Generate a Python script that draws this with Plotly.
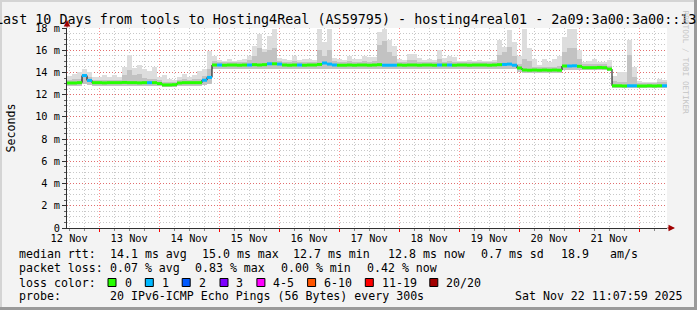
import pandas as pd
import plotly.graph_objects as go

# ---------------- data ----------------
START = "2025-11-12 11:07:59"
END = "2025-11-22 11:07:59"
BIN_HOURS = 2

median_ms = [
    13.05, 13.05, 13.08, 13.72, 13.28, 13.08, 13.08, 13.06, 13.08, 13.08,
    13.08, 13.10, 13.08, 13.08, 13.06, 13.08, 13.08, 13.08, 13.00, 12.88,
    12.88, 12.90, 13.05, 13.08, 13.08, 13.08, 13.08, 13.30, 13.55, 14.67,
    14.67, 14.65, 14.67, 14.67, 14.65, 14.67, 14.67, 14.70, 14.67, 14.70,
    14.78, 14.78, 14.75, 14.67, 14.65, 14.67, 14.67, 14.65, 14.67, 14.67,
    14.72, 14.85, 14.75, 14.67, 14.65, 14.65, 14.67, 14.65, 14.67, 14.67,
    14.65, 14.67, 14.70, 14.65, 14.65, 14.65, 14.67, 14.65, 14.67, 14.67,
    14.65, 14.67, 14.67, 14.65, 14.67, 14.67, 14.67, 14.65, 14.67, 14.67,
    14.65, 14.67, 14.67, 14.67, 14.65, 14.67, 14.70, 14.72, 14.75, 14.65,
    14.40, 14.22, 14.20, 14.22, 14.20, 14.22, 14.20, 14.22, 14.20, 14.58,
    14.58, 14.60, 14.55, 14.43, 14.43, 14.43, 14.45, 14.43, 14.30, 12.80,
    12.80, 12.78, 12.80, 12.80, 12.78, 12.78, 12.80, 12.78, 12.80, 12.80,
]

loss = [
    0, 0, 0, 1, 1, 0, 0, 0, 0, 0,
    0, 0, 0, 0, 0, 0, 1, 0, 0, 0,
    0, 0, 0, 0, 0, 0, 0, 1, 1, 0,
    1, 0, 0, 0, 0, 0, 1, 0, 0, 0,
    1, 0, 1, 0, 0, 0, 1, 0, 0, 0,
    0, 1, 1, 1, 0, 0, 0, 0, 0, 0,
    0, 0, 0, 1, 1, 1, 0, 0, 0, 0,
    0, 0, 0, 0, 1, 0, 1, 0, 0, 0,
    0, 0, 0, 0, 0, 0, 0, 1, 1, 1,
    0, 0, 0, 0, 0, 0, 0, 0, 0, 0,
    1, 1, 0, 0, 0, 0, 0, 0, 0, 0,
    0, 0, 1, 1, 0, 0, 0, 0, 0, 1,
]

smoke_lo = [
    12.80, 12.80, 12.80, 13.00, 12.90, 12.80, 12.80, 12.80, 12.80, 12.80,
    12.80, 12.80, 12.80, 12.80, 12.80, 12.80, 12.80, 12.80, 12.75, 12.65,
    12.65, 12.65, 12.80, 12.80, 12.80, 12.80, 12.80, 12.90, 13.00, 14.35,
    14.35, 14.35, 14.35, 14.35, 14.35, 14.35, 14.35, 14.35, 14.35, 14.35,
    14.35, 14.35, 14.35, 14.35, 14.35, 14.35, 14.35, 14.35, 14.35, 14.35,
    14.35, 14.35, 14.35, 14.35, 14.35, 14.35, 14.35, 14.35, 14.35, 14.35,
    14.35, 14.35, 14.35, 14.35, 14.35, 14.35, 14.35, 14.35, 14.35, 14.35,
    14.35, 14.35, 14.35, 14.35, 14.35, 14.35, 14.35, 14.35, 14.35, 14.35,
    14.35, 14.35, 14.35, 14.35, 14.35, 14.35, 14.35, 14.35, 14.35, 14.35,
    14.00, 13.95, 13.95, 13.95, 13.95, 13.95, 13.95, 13.95, 13.95, 14.25,
    14.25, 14.25, 14.25, 14.25, 14.25, 14.25, 14.25, 14.25, 14.10, 12.60,
    12.60, 12.60, 12.60, 12.60, 12.60, 12.60, 12.60, 12.60, 12.60, 12.60,
]

smoke_hi = [
    13.70, 13.90, 14.00, 14.35, 14.00, 13.60, 13.60, 13.80, 13.60, 13.80,
    13.60, 14.50, 15.60, 14.40, 14.70, 14.30, 14.10, 14.50, 13.60, 13.80,
    13.40, 13.30, 13.60, 13.90, 13.60, 13.80, 14.10, 14.30, 15.90, 15.50,
    15.10, 15.00, 15.20, 15.00, 15.10, 15.20, 15.50, 16.40, 17.50, 16.10,
    17.30, 17.90, 15.30, 15.20, 15.10, 15.50, 15.10, 15.20, 15.20, 15.10,
    17.90, 16.70, 17.90, 15.30, 15.20, 15.10, 15.50, 15.20, 15.20, 15.50,
    15.40, 15.40, 17.60, 17.90, 16.90, 16.40, 15.20, 15.10, 15.70, 15.70,
    15.30, 15.10, 15.20, 15.10, 16.00, 15.30, 15.50, 15.40, 15.00, 15.00,
    15.10, 15.00, 15.10, 15.00, 15.00, 15.10, 16.90, 16.30, 17.80, 16.70,
    15.50, 17.90, 16.20, 15.20, 14.70, 15.20, 14.90, 15.20, 15.50, 17.20,
    17.90, 17.90, 16.00, 14.90, 15.00, 15.20, 14.90, 14.90, 15.10, 13.70,
    14.00, 14.00, 16.90, 14.50, 13.20, 13.10, 13.10, 13.10, 13.40, 13.30,
]

smoke_dark_hi = [
    13.35, 13.40, 13.45, 13.90, 13.60, 13.35, 13.35, 13.35, 13.35, 13.35,
    13.35, 13.80, 14.20, 13.80, 13.90, 13.50, 13.40, 13.40, 13.30, 13.15,
    13.15, 13.15, 13.35, 13.40, 13.35, 13.40, 13.45, 13.70, 14.30, 15.00,
    14.95, 14.95, 14.95, 14.95, 14.95, 14.95, 15.10, 15.50, 16.20, 15.80,
    16.00, 16.20, 15.00, 14.95, 14.95, 15.00, 14.95, 14.95, 14.95, 14.95,
    16.00, 15.50, 16.00, 15.00, 14.95, 14.95, 15.00, 14.95, 14.95, 15.00,
    14.95, 15.00, 16.50, 16.80, 15.80, 15.50, 14.95, 14.95, 15.10, 15.10,
    14.95, 14.95, 14.95, 14.95, 15.20, 14.95, 15.00, 14.95, 14.95, 14.95,
    14.95, 14.95, 14.95, 14.95, 14.95, 14.95, 15.60, 15.80, 16.30, 15.50,
    14.80, 15.20, 15.00, 14.50, 14.50, 14.50, 14.50, 14.50, 14.60, 15.80,
    16.20, 16.20, 15.20, 14.75, 14.75, 14.80, 14.75, 14.75, 14.60, 13.20,
    13.10, 13.10, 15.60, 13.60, 13.05, 13.05, 13.05, 13.05, 13.10, 13.10,
]

y_tickvals = [0, 2, 4, 6, 8, 10, 12, 14, 16, 18]
y_ticktext = ["0", "2 m", "4 m", "6 m", "8 m", "10 m", "12 m", "14 m", "16 m", "18 m"]

title_text = ("Last 10 Days from tools to Hosting4Real (AS59795) - hosting4real01 - "
              "2a09:3a00:3a00::133")

row_median = ["median rtt:", "14.1 ms avg", "15.0 ms max", "12.7 ms min",
              "12.8 ms now", "0.7 ms sd", "18.9", "am/s"]
row_loss = ["packet loss:", "0.07 % avg", "0.83 % max", "0.00 % min", "0.42 % now"]
loss_labels = ["0", "1", "2", "3", "4-5", "6-10", "11-19", "20/20"]
loss_colors = ["#26ff00", "#00b8ff", "#0059ff", "#7e00ff", "#ff00ff",
               "#ff5500", "#ff0000", "#a10000"]
row_probe = ["probe:", "20 IPv6-ICMP Echo Pings (56 Bytes) every 300s",
             "Sat Nov 22 11:07:59 2025"]

# ---------------- layout constants (pixels) ----------------
W, H = 697, 310
PL, PR, PT, PB = 67, 667, 28, 228          # plot area edges
MONO = "DejaVu Sans Mono"


def px(x):
    return (x - PL) / (PR - PL)


def py(y):
    return (PB - y) / (PB - PT)


bin_ms = BIN_HOURS * 3600 * 1000
starts = pd.date_range(START, periods=len(median_ms), freq=f"{BIN_HOURS}h")
centers = starts + pd.Timedelta(hours=BIN_HOURS / 2)
ends = starts + pd.Timedelta(hours=BIN_HOURS)

fig = go.Figure()

# smoke: light outer band
fig.add_trace(go.Bar(
    x=centers, y=[h - l for h, l in zip(smoke_hi, smoke_lo)], base=smoke_lo,
    width=bin_ms, marker=dict(color="#dddddd", line=dict(width=0)),
    hoverinfo="skip", showlegend=False))
# smoke: darker inner band
fig.add_trace(go.Bar(
    x=centers, y=[h - l for h, l in zip(smoke_dark_hi, smoke_lo)], base=smoke_lo,
    width=bin_ms, marker=dict(color="#c2c2c2", line=dict(width=0)),
    hoverinfo="skip", showlegend=False))

# median: thin black step line
fig.add_trace(go.Scatter(
    x=list(starts) + [ends[-1]], y=median_ms + [median_ms[-1]],
    mode="lines", line=dict(color="#000000", width=1, shape="hv"),
    hoverinfo="skip", showlegend=False))

# median coloured by loss
for lv in sorted(set(loss)):
    xs, ys = [], []
    for s, e, m, l in zip(starts, ends, median_ms, loss):
        if l == lv:
            xs += [s, e, None]
            ys += [m, m, None]
    fig.add_trace(go.Scatter(
        x=xs, y=ys, mode="lines", line=dict(color=loss_colors[lv], width=3),
        hoverinfo="skip", showlegend=False, connectgaps=False))

# hidden helper axis (paper-like 0..1 range) used to place the over-wide title
fig.add_trace(go.Scatter(x=[0.5], y=[0.5], xaxis="x2", yaxis="y2", mode="none",
                         hoverinfo="skip", showlegend=False))

RED_GRID = "rgba(255,0,0,0.45)"
GREY_GRID = "#c8c8c8"

fig.update_layout(
    width=W, height=H,
    margin=dict(l=PL, r=W - PR, t=PT, b=H - PB),
    paper_bgcolor="#f3f3f3", plot_bgcolor="#ffffff",
    barmode="overlay", bargap=0,
    showlegend=False,
    font=dict(family=MONO, size=10.3, color="#000000"),
    xaxis=dict(
        type="date", range=[START, END],
        tick0="2025-11-13 00:00:00", dtick=86400000,
        tickformat="%d %b", ticklabelmode="period",
        showgrid=True, gridcolor=RED_GRID, griddash="1px,2px", gridwidth=1,
        ticks="outside", ticklen=3, tickcolor="#ff0000",
        ticklabelstandoff=-2,
        showline=True, linecolor="#303030", linewidth=1,
        zeroline=False, fixedrange=True,
        tickfont=dict(family=MONO, size=10.3, color="#000000"),
        minor=dict(dtick=6 * 3600 * 1000, showgrid=True, gridcolor=GREY_GRID,
                   griddash="1px,2px", ticks="outside", ticklen=2,
                   tickcolor="#888888"),
    ),
    yaxis=dict(
        range=[0, 18], tickvals=y_tickvals, ticktext=y_ticktext,
        showgrid=True, gridcolor=RED_GRID, griddash="1px,2px", gridwidth=1,
        ticks="outside", ticklen=4, tickcolor="#303030",
        showline=True, linecolor="#303030", linewidth=1,
        zeroline=False, fixedrange=True,
        tickfont=dict(family=MONO, size=10.3, color="#000000"),
        minor=dict(dtick=0.5, showgrid=True, gridcolor=GREY_GRID,
                   griddash="1px,2px", ticks="outside", ticklen=2,
                   tickcolor="#606060"),
    ),
    xaxis2=dict(overlaying="x", range=[0, 1], visible=False, fixedrange=True),
    yaxis2=dict(overlaying="y", range=[0, 1], visible=False, fixedrange=True),
)

ann = []
shapes = []


def text(t, x, y, size=11.6, color="#000000", angle=0, anchor="left"):
    ann.append(dict(text=t, x=px(x), y=py(y), xref="paper", yref="paper",
                    xanchor=anchor, yanchor="middle", showarrow=False,
                    textangle=angle, font=dict(family=MONO, size=size, color=color)))


# title: x referenced to the hidden helper axis so it is not pushed inside the
# figure; like the original it overflows and is cut at both image edges
ann.append(dict(text=title_text, x=px(349), y=py(19), xref="x2", yref="paper",
                xanchor="center", yanchor="middle", showarrow=False,
                font=dict(family=MONO, size=13.4, color="#000000")))

# axis label and watermark
text("Seconds", 10.5, 128, size=11.6, angle=-90, anchor="center")
text("RRDTOOL / TOBI OETIKER", 685.5, 62, size=7.8, color="#c4c4c4", angle=90,
     anchor="center")

# statistics rows
row1_x = [16.5, 107.6, 200, 291, 385.8, 479, 558.7, 607.6]
for t, x in zip(row_median, row1_x):
    text(t, x, 254)
row2_x = [16.5, 107.6, 193.3, 279, 365.3]
for t, x in zip(row_loss, row2_x):
    text(t, x, 268)
text("loss color:", 16.5, 282.5)
box_x = [108, 145.3, 182.2, 220, 256.9, 307.6, 365.3, 429.8]
lab_x = [123.1, 160, 197, 234, 271, 322, 380, 444.4]
for lab, col, bx, lx in zip(loss_labels, loss_colors, box_x, lab_x):
    shapes.append(dict(type="rect", xref="paper", yref="paper",
                       x0=px(bx), x1=px(bx + 8), y0=py(286.5), y1=py(278.5),
                       fillcolor=col, line=dict(color="#000000", width=1)))
    text(lab, lx, 282.5)
row4_x = [16.5, 107.6, 513.3]
for t, x in zip(row_probe, row4_x):
    text(t, x, 296)

# axis arrows (head position in paper coords, tail as pixel offset)
ann.append(dict(x=px(PL), y=py(20), xref="paper", yref="paper",
                ax=0, ay=9, showarrow=True, arrowhead=2,
                arrowsize=1.3, arrowwidth=1, arrowcolor="#a00000", text=""))
ann.append(dict(x=px(675), y=py(PB), xref="paper", yref="paper",
                ax=-9, ay=0, showarrow=True, arrowhead=2,
                arrowsize=1.3, arrowwidth=1, arrowcolor="#a00000", text=""))

# frame (3D border like rrdtool)
shapes += [
    dict(type="rect", xref="paper", yref="paper", x0=px(0), x1=px(2), y0=py(H), y1=py(0),
         fillcolor="#d4d4d4", line=dict(width=0), layer="below"),
    dict(type="rect", xref="paper", yref="paper", x0=px(0), x1=px(W), y0=py(2), y1=py(0),
         fillcolor="#d4d4d4", line=dict(width=0), layer="below"),
    dict(type="rect", xref="paper", yref="paper", x0=px(W - 3), x1=px(W), y0=py(H), y1=py(0),
         fillcolor="#9a9a9a", line=dict(width=0), layer="below"),
    dict(type="rect", xref="paper", yref="paper", x0=px(0), x1=px(W), y0=py(H), y1=py(H - 3),
         fillcolor="#9a9a9a", line=dict(width=0), layer="below"),
]

fig.update_layout(annotations=ann, shapes=shapes)
fig.write_html("out.html")
